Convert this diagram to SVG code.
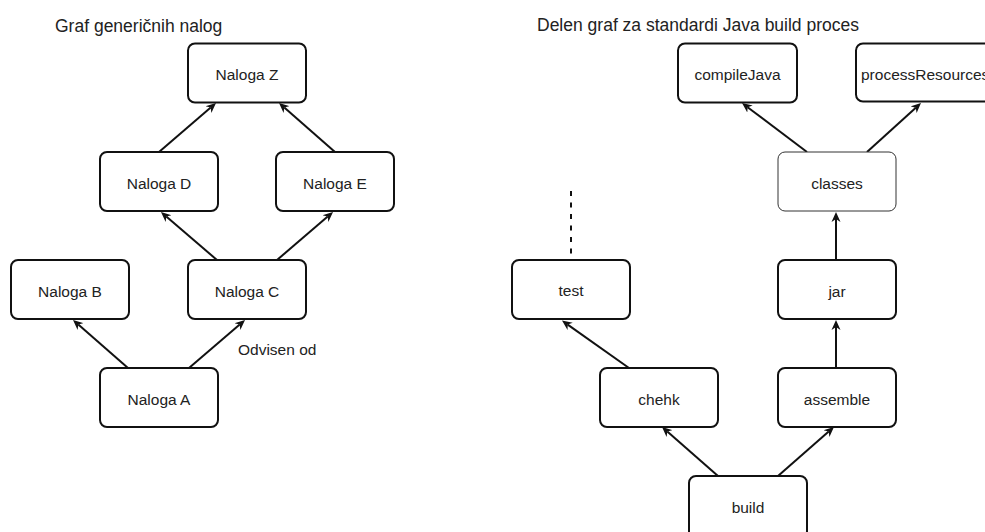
<svg xmlns="http://www.w3.org/2000/svg" width="985" height="532" viewBox="0 0 985 532">
<style>
.box{fill:#fff;stroke:#111;stroke-width:2}
.thin{fill:#fff;stroke:#333;stroke-width:1}
.lbl{font-family:"Liberation Sans",Arial,sans-serif;font-size:15.5px;fill:#222;text-anchor:middle}
.title{font-family:"Liberation Sans",Arial,sans-serif;font-size:17.5px;fill:#222}
.edge{fill:none;stroke:#111;stroke-width:2;marker-end:url(#arr)}
.dash{fill:none;stroke:#111;stroke-width:2;stroke-dasharray:5 6.5}
</style>
<defs>
<marker id="arr" markerUnits="userSpaceOnUse" viewBox="0 0 10 10" markerWidth="10" markerHeight="10" refX="3" refY="5" orient="auto">
<path d="M0,0.5 L10,5 L0,9.5 L3,5 Z" fill="#111"/>
</marker>
</defs>
<rect width="985" height="532" fill="#fff"/>
<text class="title" x="55" y="32">Graf generičnih nalog</text>
<text class="title" x="537" y="31">Delen graf za standardi Java build proces</text>
<g id="connectors">
<line class="edge" x1="159" y1="152" x2="210.7" y2="107.6"/>
<line class="edge" x1="335" y1="152" x2="284.3" y2="107.6"/>
<line class="edge" x1="217" y1="260" x2="166.3" y2="216.6"/>
<line class="edge" x1="277" y1="260" x2="327.7" y2="216.6"/>
<line class="edge" x1="128" y1="368" x2="78.3" y2="324.6"/>
<line class="edge" x1="189" y1="368" x2="239.7" y2="324.6"/>
<line class="edge" x1="807" y1="152" x2="747.6" y2="107.2"/>
<line class="edge" x1="867" y1="152" x2="915.8" y2="107.7"/>
<line class="edge" x1="836" y1="260" x2="836" y2="219"/>
<line class="edge" x1="629" y1="368" x2="567.7" y2="324.6"/>
<line class="edge" x1="836" y1="368" x2="836" y2="327"/>
<line class="edge" x1="718" y1="476" x2="667.3" y2="431.6"/>
<line class="edge" x1="778" y1="476" x2="828.7" y2="431.6"/>
<line class="dash" x1="571" y1="191" x2="571" y2="258"/>
<text class="lbl" x="238" y="355" style="text-anchor:start">Odvisen od</text>
</g>
<g id="nalogaZ"><rect class="box" x="188" y="43.5" width="118" height="59" rx="7"/><text class="lbl" x="247" y="80">Naloga Z</text></g>
<g id="nalogaD"><rect class="box" x="100" y="152" width="118" height="59" rx="7"/><text class="lbl" x="159" y="188.5">Naloga D</text></g>
<g id="nalogaE"><rect class="box" x="276" y="152" width="118" height="59" rx="7"/><text class="lbl" x="335" y="188.5">Naloga E</text></g>
<g id="nalogaB"><rect class="box" x="11" y="260" width="118" height="59" rx="7"/><text class="lbl" x="70" y="296.5">Naloga B</text></g>
<g id="nalogaC"><rect class="box" x="188" y="260" width="118" height="59" rx="7"/><text class="lbl" x="247" y="296.5">Naloga C</text></g>
<g id="nalogaA"><rect class="box" x="100" y="368" width="118" height="59" rx="7"/><text class="lbl" x="159" y="404.5">Naloga A</text></g>
<g id="compileJava"><rect class="box" x="678" y="43.5" width="119" height="59" rx="7"/><text class="lbl" x="737.5" y="80">compileJava</text></g>
<g id="processResources"><rect class="box" x="856" y="43.5" width="140" height="58" rx="7"/><text class="lbl" x="861" y="80" style="text-anchor:start">processResources</text></g>
<g id="classes"><rect class="thin" x="778" y="152" width="118" height="59" rx="7"/><text class="lbl" x="837" y="188.5">classes</text></g>
<g id="test"><rect class="box" x="512" y="260" width="118" height="59" rx="7"/><text class="lbl" x="571" y="296">test</text></g>
<g id="jar"><rect class="box" x="778" y="260" width="118" height="59" rx="7"/><text class="lbl" x="837" y="296.5">jar</text></g>
<g id="chehk"><rect class="box" x="600" y="368" width="118" height="59" rx="7"/><text class="lbl" x="659" y="404.5">chehk</text></g>
<g id="assemble"><rect class="box" x="778" y="368" width="118" height="59" rx="7"/><text class="lbl" x="837" y="404.5">assemble</text></g>
<g id="build"><rect class="box" x="689" y="476" width="118" height="62" rx="7"/><text class="lbl" x="748" y="512.5">build</text></g>
</svg>
